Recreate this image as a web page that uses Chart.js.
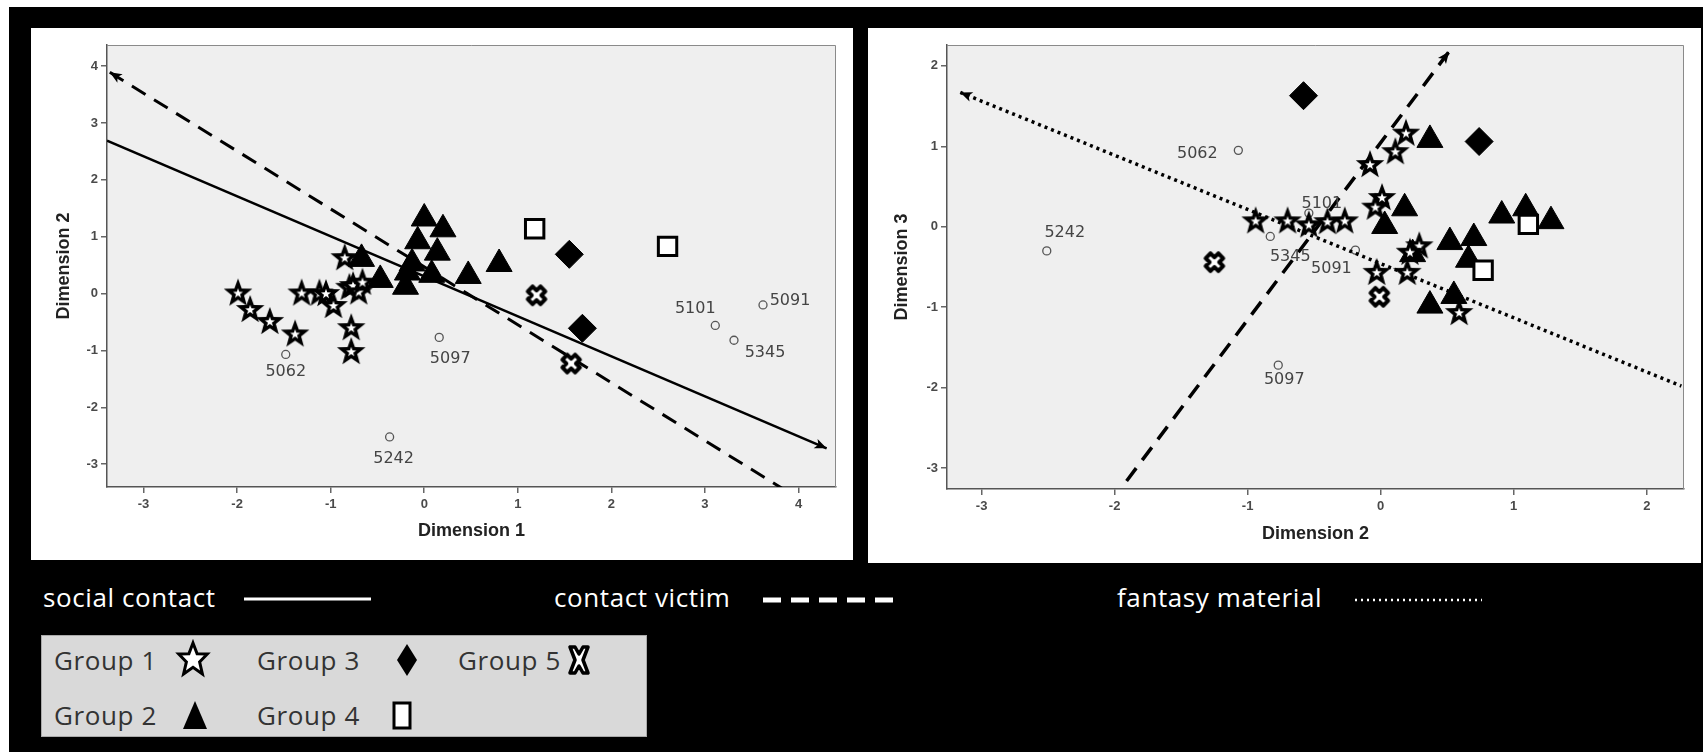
<!DOCTYPE html>
<html>
<head>
<meta charset="utf-8">
<title>MDS plots</title>
<script src="https://cdn.jsdelivr.net/npm/chart.js@4.4.0/dist/chart.umd.min.js"></script>
<style>
  html, body { margin: 0; padding: 0; width: 1703px; height: 752px; overflow: hidden; background: #fff; }
  #frame { position: absolute; left: 9px; top: 7px; right: 0; bottom: 0; background: #000; }
  .panel { position: absolute; background: #fff; }
  #p1 { left: 31px; top: 28px; width: 822px; height: 532px; }
  #p2 { left: 868px; top: 28px; width: 833px; height: 535px; }
  .txt { position: absolute; font-family: "Open Sans", sans-serif; font-size: 26px; line-height: 30px;
         letter-spacing: 0.6px; white-space: nowrap; }
  .white { color: #fff; }
  .dark { color: #333; }
  #legbox { position: absolute; left: 41px; top: 635px; width: 604px; height: 100px;
            background: #d9d9d9; border: 1px solid #aaa; }
  svg.ico { position: absolute; overflow: visible; }
</style>
</head>
<body>
<div id="frame"></div>
<div class="panel" id="p1"><canvas id="c1" width="822" height="532"></canvas></div>
<div class="panel" id="p2"><canvas id="c2" width="833" height="535"></canvas></div>

<div class="txt white" style="left:43px;top:582px;">social contact</div>
<svg class="ico" style="left:244px;top:590px;" width="128" height="20"><line x1="0" y1="9" x2="127" y2="9" stroke="#fff" stroke-width="3"/></svg>
<div class="txt white" style="left:554px;top:582px;">contact victim</div>
<svg class="ico" style="left:763px;top:590px;" width="131" height="20"><line x1="0" y1="10" x2="130" y2="10" stroke="#fff" stroke-width="5" stroke-dasharray="18 10"/></svg>
<div class="txt white" style="left:1117px;top:582px;">fantasy material</div>
<svg class="ico" style="left:1355px;top:590px;" width="128" height="20"><line x1="0" y1="10" x2="127" y2="10" stroke="#fff" stroke-width="2.5" stroke-dasharray="2 4"/></svg>

<div id="legbox"></div>
<div class="txt dark" style="left:54px;top:645px;">Group 1</div>
<div class="txt dark" style="left:257px;top:645px;">Group 3</div>
<div class="txt dark" style="left:458px;top:645px;">Group 5</div>
<div class="txt dark" style="left:54px;top:700px;">Group 2</div>
<div class="txt dark" style="left:257px;top:700px;">Group 4</div>
<svg class="ico" style="left:193px;top:660px;" width="1" height="1">
  <polygon points="0,-17 4.1,-6.2 14.3,-6 6.6,1.9 9.4,14 0,7.3 -9.4,14 -6.6,1.9 -14.3,-6 -4.1,-6.2" fill="#fff" stroke="#000" stroke-width="3"/>
</svg>
<svg class="ico" style="left:407px;top:660px;" width="1" height="1">
  <polygon points="0,-16 10,0 0,16 -10,0" fill="#000"/>
</svg>
<svg class="ico" style="left:579px;top:660px;" width="1" height="1">
  <polygon points="-9,-13 -4,-13 0,-6 4,-13 9,-13 4,0 9,13 4,13 0,6 -4,13 -9,13 -4,0" fill="#fff" stroke="#000" stroke-width="3.5" stroke-linejoin="round"/>
</svg>
<svg class="ico" style="left:195px;top:715px;" width="1" height="1">
  <polygon points="0,-14 12,14 -12,14" fill="#000"/>
</svg>
<svg class="ico" style="left:402px;top:715px;" width="1" height="1">
  <rect x="-8" y="-12" width="16" height="25" fill="#fff" stroke="#000" stroke-width="3"/>
</svg>

<script>
// ---- Plot 1: Dimension 1 (x) vs Dimension 2 (y) ----
const p1XTicks = [-3, -2, -1, 0, 1, 2, 3, 4];
const p1YTicks = [-3, -2, -1, 0, 1, 2, 3, 4];

const p1Group1X = [-1.99, -1.86, -1.65, -1.38, -1.31, -1.12, -1.05, -0.97, -0.85, -0.80, -0.76, -0.70, -0.66, -0.78, -0.78];
const p1Group1Y = [0.02, -0.27, -0.48, -0.70, 0.02, 0.02, 0.01, -0.20, 0.64, 0.12, 0.15, 0.04, 0.21, -0.59, -1.01];
const p1Group2X = [0.00, 0.20, -0.07, 0.14, -0.67, -0.13, -0.18, -0.47, 0.08, -0.20, 0.47, 0.80];
const p1Group2Y = [1.32, 1.13, 0.92, 0.72, 0.61, 0.53, 0.37, 0.24, 0.33, 0.12, 0.31, 0.52];
const p1Group3X = [1.55, 1.69];
const p1Group3Y = [0.69, -0.61];
const p1Group4X = [1.18, 2.60];
const p1Group4Y = [1.14, 0.83];
const p1Group5X = [1.20, 1.57];
const p1Group5Y = [-0.03, -1.23];

const p1CaseIds = ['5062', '5097', '5242', '5101', '5345', '5091'];
const p1CaseX = [-1.48, 0.16, -0.37, 3.11, 3.31, 3.62];
const p1CaseY = [-1.07, -0.77, -2.52, -0.56, -0.82, -0.20];

const p1SocialX = [-3.39, 4.30];
const p1SocialY = [2.69, -2.72];
const p1VictimX = [-3.36, 3.83];
const p1VictimY = [3.89, -3.43];

// ---- Plot 2: Dimension 2 (x) vs Dimension 3 (y) ----
const p2XTicks = [-3, -2, -1, 0, 1, 2];
const p2YTicks = [-3, -2, -1, 0, 1, 2];

const p2Group1X = [-0.94, -0.70, -0.54, -0.40, -0.27, -0.08, 0.11, 0.19, 0.01, -0.04, 0.29, 0.22, -0.03, 0.20, 0.59];
const p2Group1Y = [0.08, 0.08, 0.03, 0.07, 0.08, 0.78, 0.94, 1.17, 0.37, 0.25, -0.23, -0.31, -0.56, -0.56, -1.06];
const p2Group2X = [0.37, 0.18, 0.03, 0.91, 1.09, 1.28, 0.52, 0.70, 0.24, 0.66, 0.55, 0.37];
const p2Group2Y = [1.08, 0.23, 0.01, 0.14, 0.23, 0.07, -0.19, -0.14, -0.34, -0.41, -0.86, -0.98];
const p2Group3X = [-0.58, 0.74];
const p2Group3Y = [1.63, 1.06];
const p2Group4X = [1.11, 0.77];
const p2Group4Y = [0.03, -0.54];
const p2Group5X = [-1.25, -0.01];
const p2Group5Y = [-0.44, -0.87];

const p2CaseIds = ['5062', '5242', '5345', '5091', '5101', '5097'];
const p2CaseX = [-1.07, -2.51, -0.83, -0.19, -0.54, -0.77];
const p2CaseY = [0.95, -0.30, -0.12, -0.29, 0.17, -1.72];

const p2VictimX = [-1.91, 0.515];
const p2VictimY = [-3.16, 2.18];
const p2FantasyX = [-3.16, 2.26];
const p2FantasyY = [1.67, -1.98];

// label placement for the case numbers (pixel offsets from the point)
const p1LabelOffset = { '5062': [0, 17], '5097': [11, 21], '5242': [4, 22], '5101': [-20, -17], '5345': [31, 13], '5091': [27, -4] };
const p2LabelOffset = { '5062': [-41, 3], '5242': [18, -18], '5345': [20, 20], '5091': [-24, 19], '5101': [13, -9], '5097': [6, 15] };

function pts(xs, ys) {
  return xs.map((x, i) => ({ x: x, y: ys[i] }));
}

function starPath(g, R, r) {
  g.beginPath();
  for (let i = 0; i < 10; i++) {
    const rad = i % 2 ? r : R;
    const a = -Math.PI / 2 + i * Math.PI / 5;
    g.lineTo(rad * Math.cos(a), rad * Math.sin(a));
  }
  g.closePath();
}

// custom marker images: black star with a small white star inside
function starMarker() {
  const size = 40;
  const c = document.createElement('canvas');
  c.width = c.height = size;
  const g = c.getContext('2d');
  g.translate(size / 2, size / 2 + 1);
  starPath(g, 15, 6.3);
  g.fillStyle = '#000';
  g.fill();
  starPath(g, 5.2, 2.1);
  g.fillStyle = '#fff';
  g.fill();
  return c;
}

function crossMarker() {
  const L = 9, w = 3.4, size = 34;
  const c = document.createElement('canvas');
  c.width = c.height = size;
  const g = c.getContext('2d');
  g.translate(size / 2, size / 2);
  g.rotate(Math.PI / 4);
  const p = [[-w, -L], [w, -L], [w, -w], [L, -w], [L, w], [w, w], [w, L], [-w, L], [-w, w], [-L, w], [-L, -w], [-w, -w]];
  g.beginPath();
  p.forEach(q => g.lineTo(q[0], q[1]));
  g.closePath();
  g.fillStyle = '#fff';
  g.fill();
  g.lineWidth = 4;
  g.lineJoin = 'round';
  g.strokeStyle = '#000';
  g.stroke();
  return c;
}

const STAR = starMarker();
const CROSS = crossMarker();

// plot background, frame, arrows and case labels
const decoPlugin = {
  id: 'deco',
  beforeDraw(chart) {
    const { ctx, chartArea: a } = chart;
    ctx.save();
    ctx.fillStyle = '#efefef';
    ctx.fillRect(a.left, a.top, a.right - a.left, a.bottom - a.top);
    ctx.restore();
  },
  afterDatasetsDraw(chart) {
    const { ctx, scales } = chart;
    chart.data.datasets.forEach((ds, i) => {
      if (ds.arrow) {
        const d = ds.data;
        const tip = ds.arrow === 'end' ? d[d.length - 1] : d[0];
        const from = ds.arrow === 'end' ? d[d.length - 2] : d[1];
        const tx = scales.x.getPixelForValue(tip.x), ty = scales.y.getPixelForValue(tip.y);
        const fx = scales.x.getPixelForValue(from.x), fy = scales.y.getPixelForValue(from.y);
        const ang = Math.atan2(ty - fy, tx - fx);
        const len = 12, hw = 5;
        ctx.save();
        ctx.translate(tx, ty);
        ctx.rotate(ang);
        ctx.beginPath();
        ctx.moveTo(0, 0);
        ctx.lineTo(-len, -hw);
        ctx.lineTo(-len * 0.75, 0);
        ctx.lineTo(-len, hw);
        ctx.closePath();
        ctx.fillStyle = '#000';
        ctx.fill();
        ctx.restore();
      }
      if (ds.caseIds) {
        const meta = chart.getDatasetMeta(i);
        ctx.save();
        ctx.font = '16px "DejaVu Sans"';
        ctx.fillStyle = '#444';
        ctx.textAlign = 'center';
        ctx.textBaseline = 'middle';
        meta.data.forEach((el, j) => {
          const id = ds.caseIds[j];
          const off = ds.labelOffset[id] || [0, 16];
          ctx.fillText(id, el.x + off[0], el.y + off[1]);
        });
        ctx.restore();
      }
    });
  },
  afterDraw(chart) {
    const { ctx, chartArea: a } = chart;
    ctx.save();
    ctx.strokeStyle = '#8a8a8a';
    ctx.lineWidth = 1;
    ctx.beginPath();
    ctx.moveTo(a.left, a.top + 0.5);
    ctx.lineTo(a.right - 0.5, a.top + 0.5);
    ctx.lineTo(a.right - 0.5, a.bottom);
    ctx.stroke();
    ctx.restore();
  }
};

function groupSets(g) {
  return [
    { data: pts(g[0][0], g[0][1]), pointStyle: STAR },
    { data: pts(g[2][0], g[2][1]), pointStyle: 'rectRot', radius: 14, backgroundColor: '#000', borderColor: '#000', borderWidth: 1 },
    { data: pts(g[3][0], g[3][1]), pointStyle: 'rect', radius: 13, backgroundColor: '#fff', borderColor: '#000', borderWidth: 3 },
    { data: pts(g[4][0], g[4][1]), pointStyle: CROSS },
    { data: pts(g[1][0], g[1][1]), pointStyle: 'triangle', radius: 15, backgroundColor: '#000', borderColor: '#000', borderWidth: 1 }
  ];
}

function makeChart(canvasId, spec) {
  const axisFont = { family: 'Liberation Sans', size: 13, weight: 'bold' };
  const titleFont = { family: 'Liberation Sans', size: 18, weight: 'bold' };
  const common = {
    type: 'linear',
    grid: { drawOnChartArea: false, drawTicks: true, tickLength: 6, color: '#666', lineWidth: 1.5 },
    border: { display: true, color: '#555', width: 1.5 }
  };
  return new Chart(document.getElementById(canvasId), {
    type: 'scatter',
    data: { datasets: spec.datasets },
    options: {
      responsive: false,
      animation: false,
      events: [],
      layout: { padding: { top: spec.padTop, right: spec.padRight, left: 0, bottom: 0 } },
      elements: { point: { radius: 14, hoverRadius: 14 } },
      plugins: { legend: { display: false }, tooltip: { enabled: false } },
      scales: {
        x: Object.assign({}, common, {
          min: spec.xMin, max: spec.xMax,
          afterBuildTicks: s => { s.ticks = spec.xTicks.map(v => ({ value: v })); },
          afterFit: s => { s.height = spec.xHeight; },
          ticks: { color: '#4a4a4a', font: axisFont, padding: 4, maxRotation: 0, autoSkip: false },
          title: { display: true, text: spec.xTitle, color: '#222', font: titleFont, padding: { top: 0, bottom: spec.xTitlePad } }
        }),
        y: Object.assign({}, common, {
          min: spec.yMin, max: spec.yMax,
          afterBuildTicks: s => { s.ticks = spec.yTicks.map(v => ({ value: v })); },
          afterFit: s => { s.width = spec.yWidth; },
          ticks: { color: '#4a4a4a', font: axisFont, padding: 3, autoSkip: false },
          title: { display: true, text: spec.yTitle, color: '#222', font: titleFont, padding: { top: spec.yTitlePad, bottom: 0 } }
        })
      }
    },
    plugins: [decoPlugin]
  });
}

function lineSet(xs, ys, dash, width, arrow) {
  return {
    data: pts(xs, ys), showLine: true, pointRadius: 0, borderColor: '#000', borderWidth: width,
    borderDash: dash, arrow: arrow, order: 1
  };
}

function caseSet(ids, xs, ys, offsets) {
  return {
    data: pts(xs, ys), pointStyle: 'circle', radius: 4, backgroundColor: 'rgba(0,0,0,0)',
    borderColor: '#555', borderWidth: 1.3, caseIds: ids, labelOffset: offsets, order: 2
  };
}

makeChart('c1', {
  datasets: groupSets([[p1Group1X, p1Group1Y], [p1Group2X, p1Group2Y], [p1Group3X, p1Group3Y], [p1Group4X, p1Group4Y], [p1Group5X, p1Group5Y]])
    .concat([
      caseSet(p1CaseIds, p1CaseX, p1CaseY, p1LabelOffset),
      lineSet(p1SocialX, p1SocialY, [], 2.5, 'end'),
      lineSet(p1VictimX, p1VictimY, [16, 10], 3, 'start')
    ]),
  xMin: -3.39, xMax: 4.40, yMin: -3.40, yMax: 4.37,
  xTicks: p1XTicks, yTicks: p1YTicks,
  xTitle: 'Dimension 1', yTitle: 'Dimension 2',
  padTop: 3, padRight: 10, xHeight: 73, yWidth: 76, xTitlePad: 18, yTitlePad: 22
});

makeChart('c2', {
  datasets: groupSets([[p2Group1X, p2Group1Y], [p2Group2X, p2Group2Y], [p2Group3X, p2Group3Y], [p2Group4X, p2Group4Y], [p2Group5X, p2Group5Y]])
    .concat([
      caseSet(p2CaseIds, p2CaseX, p2CaseY, p2LabelOffset),
      lineSet(p2VictimX, p2VictimY, [16, 10], 3.5, 'end'),
      lineSet(p2FantasyX, p2FantasyY, [3, 4], 3.5, 'start')
    ]),
  xMin: -3.26, xMax: 2.28, yMin: -3.26, yMax: 2.26,
  xTicks: p2XTicks, yTicks: p2YTicks,
  xTitle: 'Dimension 2', yTitle: 'Dimension 3',
  padTop: 1, padRight: 12, xHeight: 74, yWidth: 79, xTitlePad: 18, yTitlePad: 23
});
</script>
</body>
</html>
